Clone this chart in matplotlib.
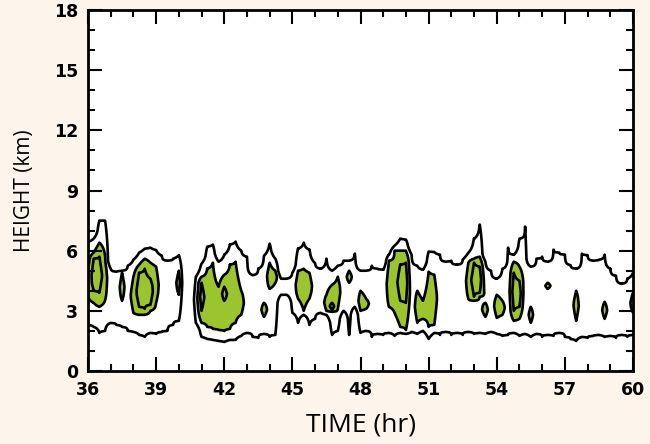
import numpy as np
import matplotlib
matplotlib.use("Agg")
import matplotlib.pyplot as plt
from matplotlib.ticker import MultipleLocator

nan = np.nan

# Sounding columns every 15 minutes (hr)
times = np.arange(36.0, 60.001, 0.25)

# Outer contour (level 1): top of each column (km), four columns per hour
top1 = [6.44, 6.6, 7.5, 7.5,   5.1, 4.95, 5.0, 5.25,   5.55, 5.9, 6.1, 6.15,
        6.03, 5.75, 5.5, 5.6,  5.78, nan, nan, 4.7,    5.35, 6.2, 6.3, 5.45,
        5.8, 6.3, 6.45, 6.0,   5.7, 4.78, 5.1, 5.75,   6.35, 5.6, 4.6, 4.6,
        4.9, 6.1, 6.4, 6.05,   5.38, 5.1, 5.6, 5.0,    5.25, 5.5, 5.5, 5.86,
        5.0, 5.0, 5.25, 5.1,   5.05, 5.8, 6.25, 6.6,   6.55, 5.8, 5.25, 5.05,
        5.95, 5.94, 5.8, 5.45, 5.5, 5.3, 5.55, 5.9,    6.6, 7.3, 5.45, 5.0,
        4.6, 5.1, 6.15, 5.8,   6.6, 7.2, 5.2, 5.6,     5.7, 5.45, 6.05, 5.9,
        5.8, 5.28, 5.1, 5.85,  5.78, 5.5, 5.55, 5.8,   5.1, 4.75, 4.35, 4.6,
        4.9]

# Outer contour (level 1): base of each column (km)
base1 = [2.3, 2.2, 1.9, 2.0,   2.4, 2.3, 2.2, 2.0,     1.95, 1.8, 1.7, 1.9,
         1.85, 1.95, 2.0, 2.3, 2.5, nan, nan, 2.4,     1.7, 1.6, 1.55, 1.5,
         1.45, 1.55, 1.55, 1.75, 1.9, 1.7, 1.65, 1.85, 1.7, 1.8, 3.8, 3.8,
         2.9, 2.4, 2.8, 2.3,   2.6, 2.9, 2.8, 1.8,     2.0, 3.0, 1.8, 3.2,
         1.9, 2.0, 1.7, 1.85,  1.8, 1.9, 1.75, 1.9,    1.85, 1.95, 1.85, 2.0,
         1.6, 1.9, 1.8, 1.95,  1.8, 1.9, 1.8, 1.95,    1.85, 1.9, 1.85, 1.95,
         1.85, 1.75, 1.8, 1.9, 1.75, 1.85, 1.7, 1.85,  1.7, 1.8, 1.75, 1.9,
         1.7, 1.6, 1.5, 1.7,   1.65, 1.75, 1.8, 1.7,   1.75, 1.65, 1.8, 1.7,
         1.8]

# Shaded contour (level 2): time -> (top, base) in km
shaded = {
    36.0: (5.0, 3.7), 36.25: (5.9, 3.4), 36.5: (6.4, 3.2), 36.75: (5.8, 3.5),
    37.5: (4.9, 3.5),
    38.0: (4.7, 2.9), 38.25: (5.3, 2.8), 38.5: (5.6, 2.8), 38.75: (5.4, 3.0),
    39.0: (5.2, 3.4),
    40.0: (5.0, 3.8),
    41.0: (4.7, 2.4), 41.25: (5.1, 2.2), 41.5: (5.4, 2.1), 41.75: (4.2, 2.05),
    42.0: (4.8, 2.0), 42.25: (5.3, 2.1), 42.5: (5.45, 2.4), 42.75: (4.0, 2.8),
    43.75: (3.4, 2.7), 44.0: (5.4, 4.1), 44.25: (5.0, 4.4),
    45.25: (5.0, 3.6), 45.5: (5.1, 3.0), 45.75: (4.9, 3.6),
    46.5: (3.8, 3.0), 46.75: (4.3, 2.95), 47.0: (4.7, 3.1),
    47.5: (5.0, 4.4),
    48.0: (4.0, 3.0), 48.25: (3.6, 3.1),
    49.25: (5.5, 3.2), 49.5: (6.0, 2.9), 49.75: (6.0, 2.2), 50.0: (6.0, 2.04),
    50.5: (4.0, 2.4), 50.75: (3.5, 2.6), 51.0: (4.95, 2.2), 51.25: (4.8, 2.3),
    52.75: (5.4, 3.6), 53.0: (5.6, 3.5), 53.25: (5.7, 3.7),
    53.5: (3.4, 2.7),
    54.0: (3.8, 2.65), 54.25: (3.5, 2.8),
    54.75: (5.45, 2.5), 55.0: (5.2, 2.6),
    55.5: (3.2, 2.4),
    56.25: (4.4, 4.1),
    57.5: (4.0, 2.5),
    58.75: (3.45, 2.6),
    60.0: (3.9, 2.9),
}

# Innermost contour (level 3): time -> (top, base) in km
core = {
    36.25: (5.6, 4.0), 36.5: (5.7, 3.9),
    38.25: (4.9, 3.2), 38.5: (5.1, 3.1), 38.75: (4.6, 3.3),
    41.0: (4.4, 3.0), 42.0: (4.2, 3.5),
    46.75: (3.4, 3.05),
    49.75: (5.3, 3.5), 50.0: (5.4, 3.4),
    53.0: (5.4, 3.7), 53.25: (5.2, 3.9),
    54.75: (4.9, 3.0), 55.0: (4.5, 3.2),
}

heights = np.linspace(0.0, 18.0, 721)


def column(z, t, t1, b1):
    """Piecewise-linear profile crossing each contour level at its edges."""
    if np.isnan(t1):
        return np.zeros_like(z)
    kz = [b1 - 0.4, b1]
    kv = [0.0, 1.0]
    key = round(t, 2)
    if key in shaded:
        t2, b2 = shaded[key]
        kz.append(b2); kv.append(2.0)
        if key in core:
            t3, b3 = core[key]
            kz += [b3, 0.5 * (b3 + t3), t3]
            kv += [3.0, 3.5, 3.0]
        else:
            kz.append(0.5 * (b2 + t2)); kv.append(2.5)
        kz.append(t2); kv.append(2.0)
    else:
        kz.append(0.5 * (b1 + t1)); kv.append(1.5)
    kz += [t1, t1 + 0.4]
    kv += [1.0, 0.0]
    return np.interp(z, kz, kv, left=0.0, right=0.0)


field = np.column_stack([
    column(heights, t, t1, b1) for t, t1, b1 in zip(times, top1, base1)
])

bg = "#fdf4ec"
green = "#9cc42e"

fig = plt.figure(figsize=(6.5, 4.44), dpi=100, facecolor=bg)
ax = fig.add_axes([88 / 650, 1 - 371 / 444, 545 / 650, 361 / 444])
ax.set_facecolor("white")

ax.contourf(times, heights, field, levels=[2.0, 10.0], colors=[green])
ax.contour(times, heights, field, levels=[1.0, 2.0, 3.0], colors="black",
           linewidths=1.9)

ax.set_xlim(36, 60)
ax.set_ylim(0, 18)
ax.xaxis.set_major_locator(MultipleLocator(3))
ax.xaxis.set_minor_locator(MultipleLocator(1))
ax.yaxis.set_major_locator(MultipleLocator(3))
ax.yaxis.set_minor_locator(MultipleLocator(1))
ax.tick_params(which="both", direction="in", top=True, right=True,
               width=1.5, color="black")
ax.tick_params(which="major", length=10, labelsize=12.5, pad=7)
ax.tick_params(which="minor", length=5)
for lbl in ax.get_xticklabels() + ax.get_yticklabels():
    lbl.set_fontweight("bold")
for s in ax.spines.values():
    s.set_linewidth(2)

ax.set_xlabel("TIME (hr)", fontsize=19, family="Open Sans", labelpad=10)
ax.set_ylabel("HEIGHT (km)", fontsize=15, family="Open Sans", labelpad=14)

fig.savefig("out.png", dpi=100, facecolor=bg)
